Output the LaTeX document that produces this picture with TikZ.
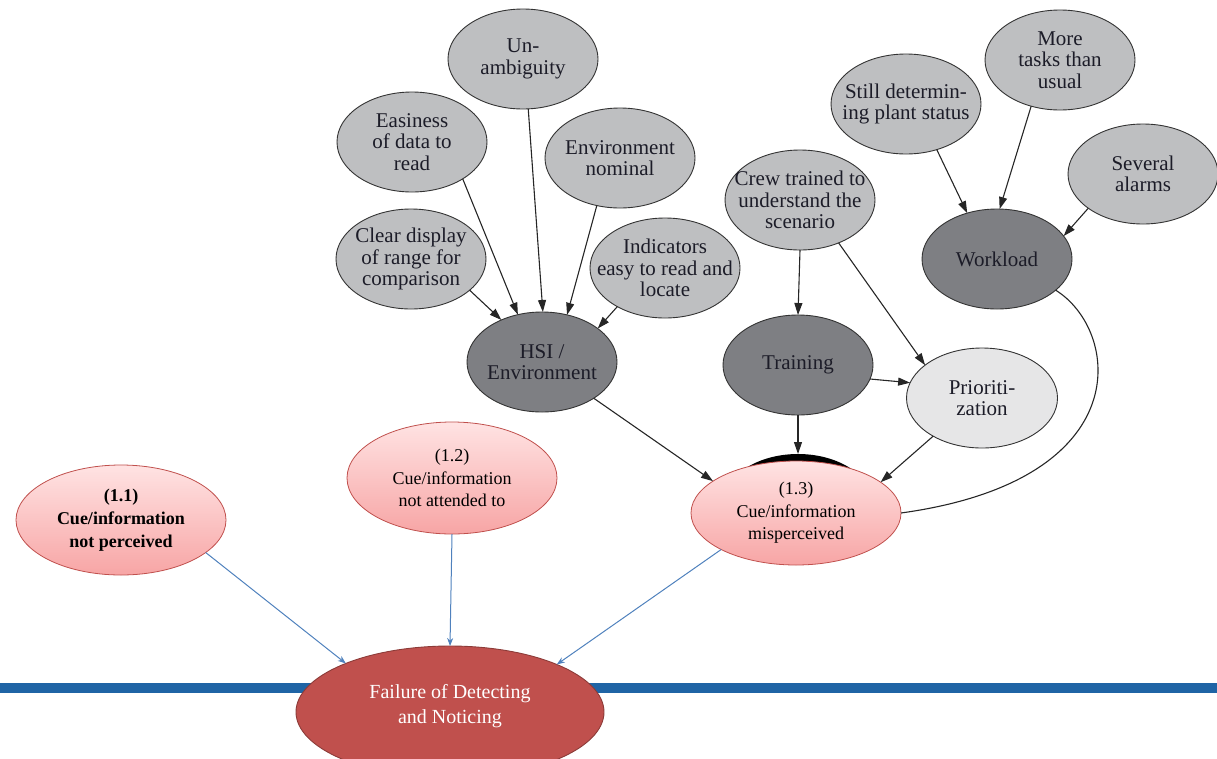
\documentclass[tikz,border=0pt]{standalone}
\usepackage{fontspec}
\setmainfont{Liberation Serif}
\newfontfamily\graphfont{Liberation Serif}
\usetikzlibrary{shapes.geometric,arrows.meta}
\definecolor{lgray}{HTML}{BEBFC1}
\definecolor{dgray}{HTML}{7E7F83}
\definecolor{pgray}{HTML}{E6E6E7}
\definecolor{nodeedge}{HTML}{333333}
\definecolor{textc}{HTML}{1C1C28}
\definecolor{pinktop}{HTML}{FFE3E3}
\definecolor{pinkbot}{HTML}{F7A5A5}
\definecolor{pinkedge}{HTML}{C0504D}
\definecolor{failfill}{HTML}{C0504D}
\definecolor{failedge}{HTML}{8C3B38}
\definecolor{linkblue}{HTML}{4F81BD}
\definecolor{barblue}{HTML}{1F64A5}
\begin{document}
\begin{tikzpicture}[x=1pt,y=-1pt,
  base/.style={ellipse, draw=nodeedge, line width=0.9pt, inner sep=0pt, outer sep=0pt},
  lgnode/.style={base, fill=lgray, minimum width=150pt, minimum height=100pt},
  dgnode/.style={base, fill=dgray, minimum width=150pt, minimum height=100pt},
  pgnode/.style={base, fill=pgray, minimum width=151pt, minimum height=100pt},
  txt/.style={align=center, inner sep=0pt, text=textc, font=\graphfont\fontsize{21}{21.5}\selectfont},
  ptxt/.style={align=center, inner sep=0pt, text=black, font=\graphfont\fontsize{18}{22.5}\selectfont},
  pinknode/.style={ellipse, inner sep=0pt, outer sep=0pt, draw=pinkedge, line width=0.8pt,
    top color=pinktop, bottom color=pinkbot, minimum width=210pt},
  arr/.style={draw=black!85, line width=1.1pt, -{Triangle[length=12pt,width=8pt]}},
  plain/.style={draw=black!85, line width=1.1pt},
  barr/.style={draw=linkblue, line width=1pt, -{Stealth[length=8pt,width=6pt]}}
]
\useasboundingbox (0,0) rectangle (1217,758);

% horizontal rule behind the outcome node
\fill[barblue] (0,683) rectangle (1217,693);

% HSI / Environment cluster
\node[lgnode, label={[txt]center:{Un-\\ambiguity}}] (unamb) at (523,59) {};
\node[lgnode, label={[txt]center:{Easiness\\of data to\\read}}] (easy) at (412,142) {};
\node[lgnode, label={[txt]center:{Environment\\nominal}}] (envnom) at (620,158) {};
\node[lgnode, label={[txt]center:{Clear display\\of range for\\comparison}}] (clear) at (411,259) {};
\node[lgnode, label={[txt]center:{Indicators\\easy to read and\\locate}}] (indic) at (665,268) {};
\node[dgnode, label={[txt]center:{HSI /\\Environment}}] (hsi) at (542,362) {};

% Training cluster
\node[lgnode, label={[txt]center:{Crew trained to\\understand the\\scenario}}] (crew) at (800,200) {};
\node[dgnode, label={[txt]center:{Training}}] (train) at (798,365) {};
\node[pgnode, label={[txt]center:{Prioriti-\\zation}}] (prio) at (982,398) {};

% Workload cluster
\node[lgnode, label={[txt]center:{Still determin-\\ing plant status}}] (still) at (906,104) {};
\node[lgnode, label={[txt]center:{More\\tasks than\\usual}}] (more) at (1060,60) {};
\node[lgnode, label={[txt]center:{Several\\alarms}}] (alarms) at (1143,174) {};
\node[dgnode, label={[txt]center:{Workload}}] (wl) at (997,259) {};

% black node partly hidden behind (1.3)
\node[ellipse, fill=black, inner sep=0pt, outer sep=0pt, minimum width=150pt, minimum height=100pt] (cap) at (798,504) {};

% failure modes
\node[pinknode, minimum height=110pt,
  label={[ptxt, font=\graphfont\bfseries\fontsize{18}{23}\selectfont]center:{(1.1)\\Cue/information\\not perceived}}] (m11) at (121,520) {};
\node[pinknode, minimum height=112pt,
  label={[ptxt]center:{(1.2)\\Cue/information\\not attended to}}] (m12) at (452,478) {};
\node[pinknode, minimum height=104pt,
  label={[ptxt]center:{(1.3)\\Cue/information\\misperceived}}] (m13) at (796,513) {};

% outcome
\node[ellipse, inner sep=0pt, outer sep=0pt, draw=failedge, line width=0.9pt, fill=failfill,
  minimum width=308pt, minimum height=132pt,
  label={[align=center, inner sep=0pt, text=white, yshift=6pt, font=\graphfont\fontsize{20}{25}\selectfont]center:{Failure of Detecting\\and Noticing}}] (fail) at (450,712) {};

% influences
\draw[arr] (clear.-28) -- (hsi.134);
\draw[arr] (easy.-36) -- (hsi.117);
\draw[arr] (unamb.-84) -- (hsi.89);
\draw[arr] (envnom.-116) -- (hsi.62);
\draw[arr] (indic.-141) -- (hsi.31);
\draw[arr] (crew.south) -- (train.north);
\draw[arr] (crew.-48) -- (prio.150);
\draw[arr] (train.-11) -- (prio.168);
\draw[arr] (train.south) -- (cap.north);
\draw[arr] (hsi.-35) -- (m13.159);
\draw[arr] (prio.-142) -- (m13.20);
\draw[arr] (still.-56) -- (wl.123);
\draw[arr] (more.-122) -- (wl.87);
\draw[arr] (alarms.-148) -- (wl.19);
\draw[plain] (wl.-28) .. controls (1120,330) and (1140,480) .. (m13.east);

% failure modes to outcome
\draw[barr] (m11.-21) -- (fail.155);
\draw[barr] (m12.south) -- (fail.north);
\draw[barr] (m13.-154) -- (fail.24);
\end{tikzpicture}
\end{document}
